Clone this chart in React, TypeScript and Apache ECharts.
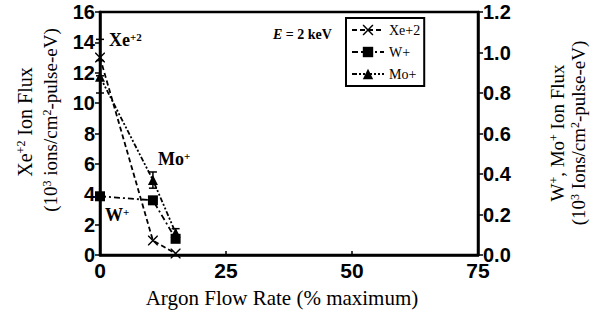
import React, { useEffect, useRef } from "react";
import * as echarts from "echarts";

const xValues = [0, 10.5, 15];
const xeFlux = [13.0, 0.95, 0.1];
const wFlux = [0.29, 0.27, 0.08];
const moFlux = [0.88, 0.37, 0.11];
const xeErr = [[0, 11.8, 14.2]];
const moErr = [[0, 0.8, 0.96], [10.5, 0.33, 0.41], [15, 0.095, 0.13]];
const seriesNames = ["Xe+2", "W+", "Mo+"];

const SERIF = "Liberation Serif, Times New Roman, serif";
const SANS = "Liberation Sans, Arial, sans-serif";
const crossPath = "path://M0,0 L1,0 L10,9 L10,10 L9,10 L0,1 Z M10,0 L10,1 L1,10 L0,10 L0,9 L9,0 Z";

function errRender(params: any, api: any) {
  const x = api.value(0);
  const lo = api.coord([x, api.value(1)]);
  const hi = api.coord([x, api.value(2)]);
  const w = 4;
  const st = { stroke: "#000", lineWidth: 1.5 };
  return {
    type: "group",
    children: [
      { type: "line", shape: { x1: lo[0], y1: lo[1], x2: hi[0], y2: hi[1] }, style: st },
      { type: "line", shape: { x1: lo[0] - w, y1: lo[1], x2: lo[0] + w, y2: lo[1] }, style: st },
      { type: "line", shape: { x1: hi[0] - w, y1: hi[1], x2: hi[0] + w, y2: hi[1] }, style: st },
    ],
  };
}

export default function App() {
  const ref = useRef<HTMLDivElement>(null);
  useEffect(() => {
    const chart = echarts.init(ref.current!, null, { renderer: "svg" });
    const sup = { fontSize: 11, verticalAlign: "top", lineHeight: 12, fontFamily: SERIF, fontWeight: "bold" as const };
    const supN = { fontSize: 12, verticalAlign: "top", fontFamily: SERIF, lineHeight: 12 };
    const tickLabel = { fontFamily: SANS, fontSize: 20, fontWeight: "bold", color: "#000" };
    chart.setOption({
      animation: false,
      backgroundColor: "#fff",
      grid: { left: 100, right: 117, top: 12, bottom: 69, show: true, borderColor: "#000", borderWidth: 2.5 },
      legend: {
        orient: "vertical",
        left: 346,
        top: 18,
        data: seriesNames,
        borderColor: "#000",
        borderWidth: 2,
        padding: [5, 4, 5, 5],
        itemGap: 8,
        itemWidth: 32,
        itemHeight: 13,
        textStyle: { fontFamily: SERIF, fontSize: 14, color: "#000" },
      },
      xAxis: {
        type: "value",
        min: 0,
        max: 75,
        interval: 25,
        axisLine: { lineStyle: { color: "#000", width: 2.5 } },
        axisTick: { inside: true, length: 4, lineStyle: { color: "#000", width: 1.5 } },
        splitLine: { show: false },
        axisLabel: { ...tickLabel, fontSize: 21, margin: 5 },
      },
      yAxis: [
        {
          type: "value",
          min: 0,
          max: 16,
          interval: 2,
          axisLine: { show: true, lineStyle: { color: "#000", width: 2.5 } },
          axisTick: { show: true, length: 5, lineStyle: { color: "#000", width: 1.5 } },
          splitLine: { show: false },
          axisLabel: { ...tickLabel, margin: 5 },
        },
        {
          type: "value",
          min: 0,
          max: 1.2,
          interval: 0.2,
          position: "right",
          axisLine: { show: true, lineStyle: { color: "#000", width: 2.5 } },
          axisTick: { show: true, length: 5, lineStyle: { color: "#000", width: 1.5 } },
          splitLine: { show: false },
          axisLabel: { ...tickLabel, margin: 5, formatter: (v: number) => v.toFixed(1) },
        },
      ],
      series: [
        {
          name: "Xe+2",
          type: "line",
          yAxisIndex: 0,
          data: xValues.map((x, i) => [x, xeFlux[i]]),
          symbol: crossPath,
          symbolSize: 10,
          lineStyle: { color: "#000", width: 1.8, type: [5, 3] },
          itemStyle: { color: "#000" },
        },
        {
          name: "W+",
          type: "line",
          yAxisIndex: 1,
          data: xValues.map((x, i) => [x, wFlux[i]]),
          symbol: "rect",
          symbolSize: 10,
          lineStyle: { color: "#000", width: 1.8, type: [6, 3, 2, 3] },
          itemStyle: { color: "#000" },
        },
        {
          name: "Mo+",
          type: "line",
          yAxisIndex: 1,
          data: xValues.map((x, i) => [x, moFlux[i]]),
          symbol: "triangle",
          symbolSize: 10,
          lineStyle: { color: "#000", width: 1.8, type: [5, 2, 2, 2, 2, 2] },
          itemStyle: { color: "#000" },
        },
        { type: "custom", yAxisIndex: 0, data: xeErr, renderItem: errRender, silent: true },
        { type: "custom", yAxisIndex: 1, data: moErr, renderItem: errRender, silent: true },
      ],
      graphic: [
        {
          type: "text", x: 25, y: 122, rotation: Math.PI / 2,
          style: {
            text: "Xe{s|+2} Ion Flux", align: "center", verticalAlign: "middle",
            fontFamily: SERIF, fontSize: 20, fill: "#000", rich: { s: supN },
          },
        },
        {
          type: "text", x: 50, y: 120, rotation: Math.PI / 2,
          style: {
            text: "(10{s|3} ions/cm{s|2}-pulse-eV)", align: "center", verticalAlign: "middle",
            fontFamily: SERIF, fontSize: 19, fill: "#000", rich: { s: supN },
          },
        },
        {
          type: "text", x: 557, y: 133, rotation: Math.PI / 2,
          style: {
            text: "W{s|+}, Mo{s|+} Ion Flux", align: "center", verticalAlign: "middle",
            fontFamily: SERIF, fontSize: 19, fill: "#000", rich: { s: supN },
          },
        },
        {
          type: "text", x: 578, y: 133, rotation: Math.PI / 2,
          style: {
            text: "(10{s|3} Ions/cm{s|2}-pulse-eV)", align: "center", verticalAlign: "middle",
            fontFamily: SERIF, fontSize: 19, fill: "#000", rich: { s: supN },
          },
        },
        {
          type: "text", x: 282, y: 298,
          style: {
            text: "Argon Flow Rate (% maximum)", align: "center", verticalAlign: "middle",
            fontFamily: SERIF, fontSize: 21, fill: "#000",
          },
        },
        {
          type: "text", x: 109, y: 40,
          style: {
            text: "Xe{s|+2}", verticalAlign: "middle",
            fontFamily: SERIF, fontSize: 18, fontWeight: "bold", fill: "#000", rich: { s: sup },
          },
        },
        {
          type: "text", x: 158, y: 159,
          style: {
            text: "Mo{s|+}", verticalAlign: "middle",
            fontFamily: SERIF, fontSize: 18, fontWeight: "bold", fill: "#000", rich: { s: sup },
          },
        },
        {
          type: "text", x: 105, y: 215,
          style: {
            text: "W{s|+}", verticalAlign: "middle",
            fontFamily: SERIF, fontSize: 18, fontWeight: "bold", fill: "#000", rich: { s: sup },
          },
        },
        {
          type: "text", x: 273, y: 34,
          style: {
            text: "{i|E} = 2 keV", verticalAlign: "middle",
            fontFamily: SERIF, fontSize: 14, fontWeight: "bold", fill: "#000",
            rich: { i: { fontStyle: "italic", fontFamily: SERIF, fontSize: 14, fontWeight: "bold" } },
          },
        },
      ],
    });
    return () => chart.dispose();
  }, []);
  return <div ref={ref} style={{ width: 595, height: 324, position: "absolute", left: 0, top: 0 }} />;
}
